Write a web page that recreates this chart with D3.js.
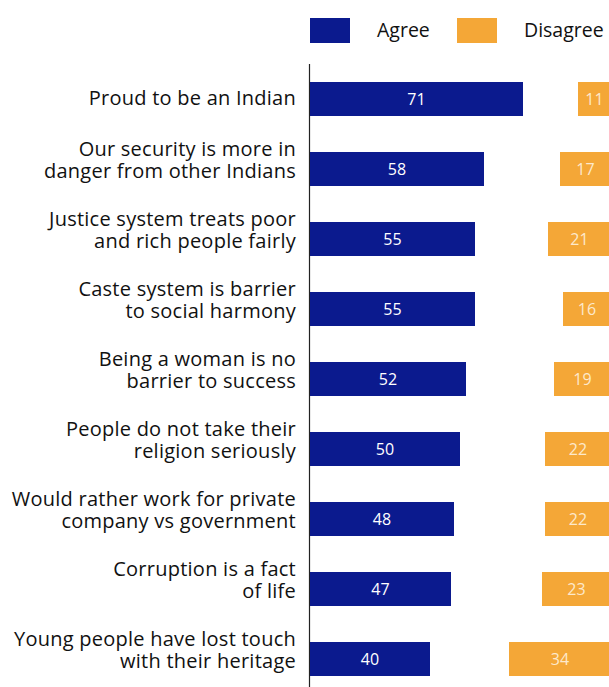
<!DOCTYPE html>
<html>
<head>
<meta charset="utf-8">
<script src="https://cdn.jsdelivr.net/npm/d3@7"></script>
<style>
  body { margin: 0; background: #fff; }
  text { font-family: "Open Sans", "Noto Sans", sans-serif; }
</style>
</head>
<body>
<svg id="chart" width="609" height="687"></svg>
<script>
// 数据
var categories = [
  ["Proud to be an Indian"],
  ["Our security is more in", "danger from other Indians"],
  ["Justice system treats poor", "and rich people fairly"],
  ["Caste system is barrier", "to social harmony"],
  ["Being a woman is no", "barrier to success"],
  ["People do not take their", "religion seriously"],
  ["Would rather work for private", "company vs government"],
  ["Corruption is a fact", "of life"],
  ["Young people have lost touch", "with their heritage"]
];
var agree = [71, 58, 55, 55, 52, 50, 48, 47, 40];
var disagree = [11, 17, 21, 16, 19, 22, 22, 23, 34];
var seriesNames = ["Agree", "Disagree"];
var colors = ["#0b1a8e", "#f4a737"];

var svg = d3.select("#chart");

var y = d3.scaleBand()
    .domain(d3.range(categories.length))
    .range([64, 694])
    .paddingInner(36 / 70)
    .paddingOuter(18 / 70);

// agree 从左轴向右，disagree 从右边向左
var xAgree = d3.scaleLinear().domain([0, 100]).range([310, 610]);
var xDis = d3.scaleLinear().domain([0, 100]).range([611, 311]);

// 轴线
svg.append("line")
    .attr("x1", 309.5).attr("x2", 309.5)
    .attr("y1", 64).attr("y2", 687)
    .attr("stroke", "#222").attr("stroke-width", 1.2);

// 图例
var legend = svg.append("g");
var legendX = [310, 457];
seriesNames.forEach(function (name, i) {
    legend.append("rect")
        .attr("x", legendX[i]).attr("y", 18)
        .attr("width", 40).attr("height", 25)
        .attr("fill", colors[i]);
    legend.append("text")
        .attr("x", legendX[i] + 67).attr("y", 37)
        .attr("font-size", 19.5).attr("fill", "#111")
        .text(name);
});

var rows = svg.append("g").selectAll("g")
    .data(categories)
    .enter().append("g");

rows.append("rect")
    .attr("x", xAgree(0))
    .attr("y", function (d, i) { return y(i); })
    .attr("width", function (d, i) { return xAgree(agree[i]) - xAgree(0); })
    .attr("height", y.bandwidth())
    .attr("fill", colors[0]);

rows.append("rect")
    .attr("x", function (d, i) { return xDis(disagree[i]); })
    .attr("y", function (d, i) { return y(i); })
    .attr("width", function (d, i) { return xDis(0) - xDis(disagree[i]); })
    .attr("height", y.bandwidth())
    .attr("fill", colors[1]);

rows.append("text")
    .attr("x", function (d, i) { return (xAgree(0) + xAgree(agree[i])) / 2; })
    .attr("y", function (d, i) { return y(i) + y.bandwidth() / 2 + 6; })
    .attr("text-anchor", "middle")
    .attr("font-size", 16).attr("fill", "#fff")
    .text(function (d, i) { return agree[i]; });

rows.append("text")
    .attr("x", function (d, i) { return (xDis(0) + xDis(disagree[i])) / 2; })
    .attr("y", function (d, i) { return y(i) + y.bandwidth() / 2 + 6; })
    .attr("text-anchor", "middle")
    .attr("font-size", 16).attr("fill", "#fde9cc")
    .text(function (d, i) { return disagree[i]; });

// 类别标签，两行的分开画
rows.each(function (d, i) {
    var cy = y(i) + y.bandwidth() / 2;
    var start = d.length === 1 ? cy + 6 : cy - 13;
    var g = d3.select(this);
    d.forEach(function (line, j) {
        g.append("text")
            .attr("x", 296)
            .attr("y", start + j * 22)
            .attr("text-anchor", "end")
            .attr("font-size", 20)
            .attr("letter-spacing", 0.25)
            .attr("fill", "#111")
            .text(line);
    });
});
</script>
</body>
</html>
